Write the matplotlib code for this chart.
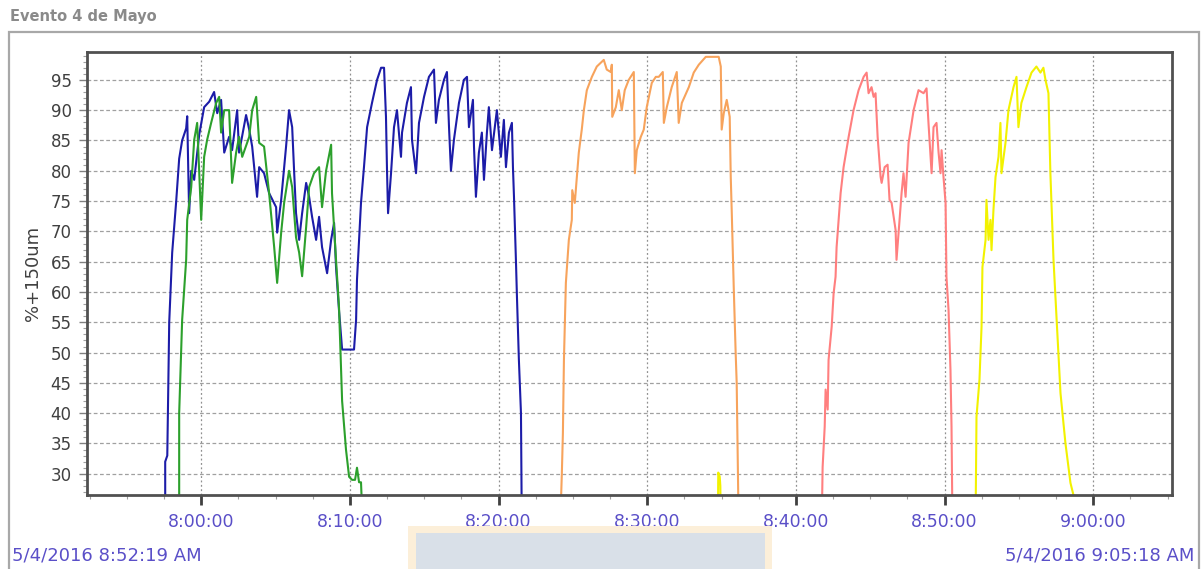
import numpy as np
import matplotlib
matplotlib.use("Agg")
import matplotlib.pyplot as plt
from matplotlib.ticker import FuncFormatter, MultipleLocator
from matplotlib.patches import Rectangle

# minutes after 8:00:00 and %+150um readings, one pair of arrays per pulse
blue_t = [-2.42, -2.42, -2.28, -2.15, -1.95, -1.68, -1.48, -1.28, -1.01, -0.94, -0.81, -0.67, -0.47, -0.13,
          0.20, 0.54, 0.87, 1.08, 1.34, 1.55, 1.88, 2.08, 2.42, 2.55, 3.02, 3.23, 3.43, 3.76, 3.90, 4.23,
          4.57, 5.04, 5.11, 5.38, 5.71, 5.91, 6.12, 6.25, 6.38, 6.59, 6.79, 7.06, 7.26, 7.46, 7.73, 7.93,
          8.13, 8.47, 8.74, 8.94, 9.07, 9.27, 9.48, 10.28, 10.42, 10.48, 10.62, 10.75, 10.95, 11.16, 11.49,
          11.83, 12.10, 12.30, 12.43, 12.50, 12.57, 12.77, 12.97, 13.17, 13.44, 13.51, 13.84, 14.11, 14.18,
          14.45, 14.65, 14.99, 15.32, 15.66, 15.79, 15.99, 16.33, 16.53, 16.67, 16.80, 17.00, 17.34, 17.67,
          17.88, 18.01, 18.28, 18.35, 18.48, 18.68, 18.88, 19.02, 19.22, 19.35, 19.56, 19.89, 20.16, 20.36,
          20.50, 20.70, 20.90, 20.97, 21.04, 21.17, 21.24, 21.37, 21.51, 21.57]
blue_v = [20, 32, 33, 55, 66.5, 75, 82, 85, 87, 89, 73, 80, 78.5, 86,
          90.5, 91.4, 93, 89.5, 91.7, 83, 85.6, 83.4, 90, 83, 89.2, 86.8, 84, 75.7, 80.6, 79.6,
          76.3, 74, 69.8, 75.2, 84, 90, 87.2, 80, 73, 68.6, 73, 78, 75.7, 72.4, 68.6, 72.4,
          67.4, 63.1, 68.6, 71.4, 64.1, 57, 50.5, 50.5, 55.4, 62, 68.6, 74.7, 80.6, 87.2, 91.2,
          95, 97, 97, 88.9, 80, 73, 79.6, 87.2, 90, 82.3, 86.3, 91.2, 93.8, 85.1,
          79.6, 87.9, 92.2, 95.5, 96.7, 87.9, 91.7, 95, 96.3, 87.2, 80, 85.1, 91.2, 95,
          95.5, 87.2, 91.7, 84, 75.7, 83, 86.3, 78.5, 86.3, 90.5, 83.4, 90, 82.3, 88.4,
          80.6, 86.3, 87.9, 80.6, 75.7, 65.3, 59.2, 48.8, 40, 20]

green_t = [-1.48, -1.48, -1.28, -1.01, -0.94, -0.67, -0.47, -0.27, 0.0, 0.20, 0.40, 0.67, 1.01, 1.21,
           1.34, 1.55, 1.88, 2.08, 2.35, 2.55, 2.76, 3.23, 3.43, 3.70, 3.90, 4.23, 4.57, 4.91, 5.11,
           5.38, 5.58, 5.91, 6.12, 6.38, 6.59, 6.79, 7.06, 7.26, 7.59, 7.93, 8.13, 8.40, 8.74, 8.80,
           9.07, 9.27, 9.48, 9.74, 9.95, 10.15, 10.35, 10.48, 10.62, 10.75, 10.89]
green_v = [20, 40, 55.4, 65.3, 71.9, 77.3, 85.1, 87.9, 71.9, 82.3, 85.1, 87.9, 91.2, 92.2,
           86.3, 90, 90, 78, 83, 85.6, 82.3, 85.6, 90, 92.2, 84.6, 84, 76.3, 67.4, 61.5,
           69.8, 74.7, 80, 77.3, 69, 66.5, 62.6, 70.7, 77.3, 79.6, 80.6, 74, 80, 84.3, 76.3,
           65.3, 57.5, 42, 34, 29.5, 29, 29, 31, 28.6, 28.6, 20]

orange_t = [24.13, 24.26, 24.33, 24.40, 24.53, 24.73, 24.93, 24.96, 25.13, 25.27, 25.40, 25.60, 25.74,
            25.94, 26.28, 26.61, 27.08, 27.28, 27.55, 27.62, 27.65, 27.89, 28.09, 28.29, 28.49, 28.76,
            29.10, 29.17, 29.30, 29.57, 29.77, 29.97, 30.31, 30.58, 30.78, 31.05, 31.12, 31.32, 31.65,
            31.99, 32.12, 32.33, 32.80, 33.13, 33.47, 33.94, 34.81, 34.95, 35.01, 35.15, 35.35, 35.55,
            35.62, 35.69, 35.82, 35.95, 36.02, 36.16]
orange_v = [20, 30.1, 36.7, 48.8, 61.5, 68.6, 71.9, 76.8, 74.7, 79, 83, 86.8, 90,
            93.3, 95.5, 97.2, 98.3, 96.7, 96.3, 97.5, 88.9, 90.5, 93.3, 90, 93.3, 95,
            96.3, 79.6, 83.4, 85.6, 86.8, 90.5, 94.5, 95.5, 95.5, 96.3, 87.9, 90.5, 93.8,
            96.3, 87.9, 91.2, 93.8, 96.2, 97.5, 98.8, 98.8, 97.2, 86.8, 89.5, 91.7, 88.9,
            79, 73, 60.9, 50, 45, 20]

red_t = [41.73, 41.80, 41.94, 42.00, 42.14, 42.20, 42.41, 42.54, 42.67, 42.74, 43.01, 43.21, 43.55,
         43.88, 44.22, 44.56, 44.76, 44.89, 45.09, 45.23, 45.36, 45.50, 45.70, 45.77, 45.97, 46.17,
         46.30, 46.44, 46.71, 46.77, 46.91, 47.11, 47.24, 47.38, 47.58, 47.92, 48.25, 48.59, 48.79,
         48.92, 49.13, 49.26, 49.46, 49.60, 49.73, 49.80, 49.93, 50.07, 50.13, 50.27, 50.40, 50.47, 50.54]
red_v = [20, 31.1, 37.8, 43.9, 40.6, 48.8, 54.3, 59.8, 62.5, 67.4, 76.3, 80.6, 85.6,
         90, 93.3, 95.5, 96.2, 92.8, 93.8, 92.2, 92.8, 85.6, 79, 78, 80.6, 81,
         75.2, 74.7, 70.2, 65.3, 69.8, 76.3, 79.6, 75.7, 84.6, 90, 93.3, 92.8, 93.6,
         87.9, 79.6, 87.2, 87.9, 83, 79.6, 83.4, 79, 74.7, 62.5, 57, 47.1, 37.8, 20]

# short blip near 8:34:50, then the last pulse
yellow_t = [34.75, 34.78, 34.88, 34.92, 34.95, np.nan,
            52.08, 52.15, 52.35, 52.49, 52.55, 52.76, 52.82, 52.96, 53.09, 53.16, 53.29, 53.43, 53.63,
            53.76, 53.83, 54.10, 54.30, 54.64, 54.84, 54.97, 55.17, 55.51, 55.85, 56.18, 56.45, 56.65,
            56.79, 56.99, 57.12, 57.33, 57.53, 57.80, 58.13, 58.47, 58.67]
yellow_v = [20, 30.2, 29.5, 28, 20, np.nan,
            20, 39.4, 45.5, 54.3, 64.1, 68.6, 75.2, 68.6, 71.9, 66.9, 73.5, 79, 82.3,
            87.9, 79.6, 84.6, 90, 93.8, 95.5, 87.2, 91.2, 93.8, 96.2, 97.2, 96.2, 97,
            95, 92.8, 79.6, 65.3, 55.9, 43.3, 35.1, 28.5, 26.5]

series = [
    (blue_t, blue_v, "#1c1ca8"),
    (green_t, green_v, "#2ca02c"),
    (orange_t, orange_v, "#f7a35c"),
    (red_t, red_v, "#ff7f7f"),
    (yellow_t, yellow_v, "#f2f200"),
]

start_label = "5/4/2016 8:52:19 AM"
end_label = "5/4/2016 9:05:18 AM"
label_col = "#5a4fc8"

fig = plt.figure(figsize=(12.03, 5.69), dpi=100)
fig.patch.set_facecolor("white")

# outer panel frame
fig.patches.append(Rectangle((9 / 1203, -0.05), (1199 - 9) / 1203, 1 - 32 / 569 + 0.05,
                             transform=fig.transFigure, fill=False, ec="#a8a8a8", lw=1.6))
# faint logo box at the bottom
fig.patches.append(Rectangle((408 / 1203, -0.05), (772 - 408) / 1203, 0.05 + 43 / 569,
                             transform=fig.transFigure, fc="#fcefd9", ec="none", zorder=0))
fig.patches.append(Rectangle((416 / 1203, -0.05), (765 - 416) / 1203, 0.05 + 36 / 569,
                             transform=fig.transFigure, fc="#d9e0e8", ec="none", zorder=0))

fig.text(10 / 1203, 1 - 17 / 569, "Evento 4 de Mayo", fontsize=10.5, color="#8a8a8a",
         va="center", ha="left", fontweight="bold")

ax = fig.add_axes([87 / 1203, 1 - 495 / 569, (1172 - 87) / 1203, (495 - 52) / 569])
for t, v, c in series:
    ax.plot(t, v, color=c, lw=1.5)

ax.set_xlim(-7.68, 65.3)
ax.set_ylim(26.5, 99.6)

ax.yaxis.set_minor_locator(MultipleLocator(1))
ax.set_yticks(np.arange(30, 100, 5))
ax.xaxis.set_major_locator(MultipleLocator(10))
ax.xaxis.set_minor_locator(MultipleLocator(2.5))
ax.xaxis.set_major_formatter(FuncFormatter(lambda m, p: "%d:%02d:00" % (8 + int(m // 60), int(m % 60))))

ax.grid(True, axis="y", which="major", ls=(0, (3, 2)), color="#a0a0a0", lw=0.9)
ax.grid(True, axis="x", which="major", ls=(0, (1.5, 2)), color="#909090", lw=0.9)

for s in ax.spines.values():
    s.set_color("#505050")
    s.set_linewidth(2)

ax.tick_params(axis="y", which="major", length=6, width=1, color="#808080", labelsize=12,
               labelcolor="#404040", pad=5)
ax.tick_params(axis="y", which="minor", length=3, width=0.8, color="#a0a0a0")
ax.tick_params(axis="x", which="major", length=7, width=2, color="#404040", labelsize=12.5,
               labelcolor=label_col, pad=6)
ax.tick_params(axis="x", which="minor", length=3, width=0.8, color="#a0a0a0")

ax.set_ylabel("%+150um", fontsize=13, color="#404040", labelpad=6)

fig.text(12 / 1203, 1 - 556 / 569, start_label, fontsize=13, color=label_col, va="center", ha="left")
fig.text(1194 / 1203, 1 - 556 / 569, end_label, fontsize=13, color=label_col, va="center", ha="right")

fig.savefig("out.png", dpi=100)
